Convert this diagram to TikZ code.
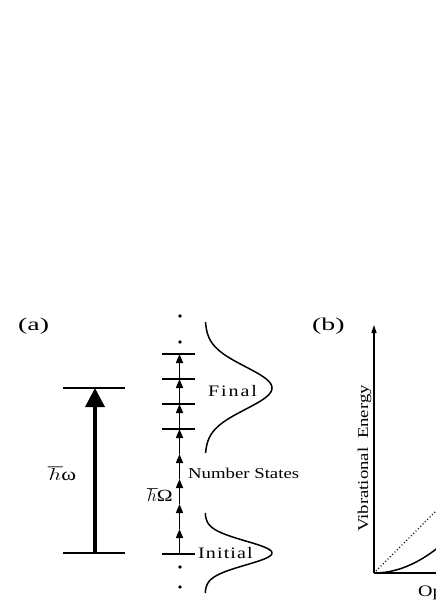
\documentclass[tikz,border=0pt]{standalone}
\usepackage{fontspec}
\setmainfont{Liberation Serif}[FakeStretch=1.25]
\newfontfamily\widefont{Liberation Serif}[FakeStretch=1.55]
\usetikzlibrary{arrows.meta}
\tikzset{
  lvl/.style={line width=1.4pt},
  curve/.style={line width=1.5pt},
  axisline/.style={line width=1.4pt},
  ladder/.style={line width=1.6pt,-{Triangle[width=7pt,length=9pt]}},
  bigarrow/.style={line width=3.6pt,-{Triangle[width=19pt,length=19pt]}},
  lbl/.style={inner sep=0pt,anchor=base west},
  dotstyle/.style={line width=1.1pt,dash pattern=on 1pt off 2.3pt},
}
\newcommand{\myhbar}{\scalebox{1.3}[1]{$\hbar$}}
\begin{document}
\begin{tikzpicture}[x=1pt,y=-1pt]
\clip (0,0) rectangle (436,616);
\fill[white] (0,0) rectangle (436,616);

% ---------- panel (a) ----------
\node[lbl,font=\widefont\fontsize{18pt}{20pt}\selectfont] (la) at (18,330) {(a)};

\coordinate (LTl) at (63,388); \coordinate (LTr) at (125,388);
\coordinate (LBl) at (63,553); \coordinate (LBr) at (125,553);
\coordinate (AT) at (95,388);  \coordinate (AB) at (95,553);
\draw[lvl] (LTl) -- (LTr);
\draw[lvl] (LBl) -- (LBr);
\draw[bigarrow] (AB) -- (AT);
\node[lbl,font=\fontsize{18pt}{20pt}\selectfont] (hw) at (48,480) {\myhbar ω};

% ladder
\foreach \k in {0,...,8}{
  \coordinate (N\k) at (179.5,{554-25*\k});
}
\foreach \k [evaluate=\k as \kn using int(\k+1)] in {0,...,7}{
  \draw[ladder] (N\k) -- (N\kn);
}
\foreach \k in {0,5,6,7,8}{
  \draw[lvl] ([xshift=-17.5pt]N\k) -- ([xshift=15.5pt]N\k);
}
\foreach \yy [count=\i] in {316,342,567,587}{
  \fill (180,\yy) circle (1.8pt);
}
\node[lbl,font=\fontsize{17pt}{19pt}\selectfont] (hW) at (147,501) {$\hbar$Ω};

% distributions
\draw[curve] plot[domain=322:453,samples=120,smooth]
  ({205+67*exp(-((\x-388)/30)*((\x-388)/30))},\x);
\draw[curve] plot[domain=513:593,samples=100,smooth]
  ({205+67*exp(-((\x-553)/17)*((\x-553)/17))},\x);

\node[lbl,font=\fontsize{16pt}{18pt}\selectfont\addfontfeature{LetterSpace=12}] (fin) at (208,396) {Final};
\node[lbl,font=\fontsize{15pt}{17pt}\selectfont] (ns) at (188,478) {Number States};
\node[lbl,font=\fontsize{16pt}{18pt}\selectfont\addfontfeature{LetterSpace=7}] (ini) at (198,558) {Initial};

% ---------- panel (b) ----------
\node[lbl,font=\widefont\fontsize{18pt}{20pt}\selectfont] (lb) at (312,330) {(b)};
\coordinate (O) at (374,573);
\coordinate (Ytop) at (374,325);
\coordinate (Xend) at (450,573);
\draw[axisline,-{Triangle[width=5pt,length=8pt]}] (O) -- (Ytop);
\draw[axisline] (O) -- (Xend);
\coordinate (D0) at (376,571);
\coordinate (D1) at (446,501);
\draw[dotstyle] (D0) -- (D1);
\draw[curve] plot[domain=374:446,samples=60,smooth] (\x,{573-0.0062*(\x-374)*(\x-374)});
\node[lbl,rotate=90,font=\fontsize{15pt}{17pt}\selectfont] (ve) at (368,532) {Vibrational\hspace{4pt} Energy};
\node[lbl,font=\fontsize{16pt}{18pt}\selectfont] (op) at (418,596) {Op};
\end{tikzpicture}
\end{document}
